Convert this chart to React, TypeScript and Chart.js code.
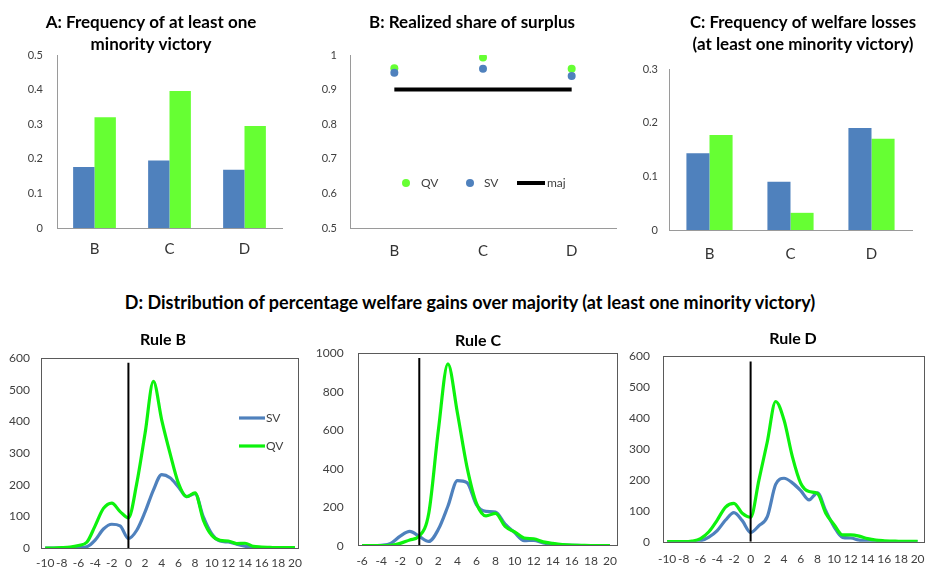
import React, { useEffect, useRef } from 'react';
import { Chart, registerables } from 'chart.js';

Chart.register(...registerables);

const FONT = 'Lato, "Open Sans", "DejaVu Sans", sans-serif';
const TICK = '#404040';
const AXIS = '#9a9a9a';
const SV_BLUE = '#4F81BD';
const QV_BAR = '#66FF33';
const QV_LINE = '#0df20d';

// ---- Top row data ----
const rules = ['B', 'C', 'D'];
const minorityFreqSV = [0.176, 0.195, 0.168];
const minorityFreqQV = [0.32, 0.396, 0.295];
const surplusQV = [0.962, 0.993, 0.96];
const surplusSV = [0.949, 0.96, 0.939];
const surplusMaj = [0.9, 0.9, 0.9];
const lossFreqSV = [0.143, 0.09, 0.19];
const lossFreqQV = [0.177, 0.032, 0.17];

// ---- Distribution data (percentage welfare gain over majority) ----
const gainsWide = [-10, -9, -8, -7, -6, -5, -4, -3, -2, -1, 0, 1, 2, 3, 4, 5, 6, 7, 8, 9, 10, 11, 12, 13, 14, 15, 16, 17, 18, 19, 20];
const gainsC = [-6, -5, -4, -3, -2, -1, 0, 1, 2, 3, 4, 5, 6, 7, 8, 9, 10, 11, 12, 13, 14, 15, 16, 17, 18, 19, 20];

const ruleB_SV = [0, 0, 0, 0, 1, 4, 25, 60, 75, 70, 30, 56, 114, 183, 232, 222, 193, 162, 172, 98, 45, 22, 19, 12, 6, 2, 1, 0, 0, 0, 0];
const ruleB_QV = [0, 0, 1, 3, 8, 18, 70, 125, 142, 115, 95, 204, 362, 526, 404, 299, 205, 162, 174, 88, 40, 24, 22, 14, 15, 5, 3, 2, 1, 1, 1];

const ruleC_SV = [0, 0, 2, 12, 50, 74, 48, 22, 85, 205, 338, 328, 212, 178, 175, 112, 68, 26, 28, 15, 8, 4, 2, 1, 0, 0, 0];
const ruleC_QV = [0, 0, 0, 2, 12, 30, 50, 170, 600, 945, 690, 410, 220, 155, 168, 100, 72, 40, 36, 20, 12, 6, 3, 2, 1, 1, 1];

const ruleD_SV = [0, 0, 0, 0, 3, 15, 36, 70, 94, 68, 30, 52, 81, 185, 205, 190, 165, 135, 158, 100, 48, 14, 12, 5, 2, 1, 0, 0, 0, 0, 0];
const ruleD_QV = [0, 0, 0, 2, 10, 32, 70, 112, 124, 92, 79, 200, 323, 453, 393, 275, 189, 162, 156, 92, 55, 22, 22, 18, 10, 5, 3, 2, 1, 1, 1];

const zeroX = 0;
const zeroLineB = [0, 585];
const zeroLineC = [0, 975];
const zeroLineD = [0, 582];

const fmtTick = (v: any) => String(Number(Number(v).toFixed(2)));

// ---- plugins ----
const framePlugin = {
  id: 'frame',
  afterDraw(chart: any) {
    const { ctx, chartArea } = chart;
    ctx.save();
    ctx.strokeStyle = '#5a5a5a';
    ctx.lineWidth = 1;
    ctx.strokeRect(Math.round(chartArea.left) + 0.5, Math.round(chartArea.top) + 0.5,
      Math.round(chartArea.right - chartArea.left), Math.round(chartArea.bottom - chartArea.top));
    ctx.restore();
  },
};

const panelTitle = {
  id: 'panelTitle',
  afterDraw(chart: any, _args: any, opts: any) {
    if (!opts || !opts.lines) return;
    const ctx = chart.ctx;
    ctx.save();
    ctx.font = `bold ${opts.size}px ${FONT}`;
    ctx.fillStyle = '#000';
    ctx.textAlign = 'center';
    ctx.textBaseline = 'middle';
    opts.lines.forEach((t: string, i: number) => {
      const mw = opts.maxWidth ? opts.maxWidth[i] : 0;
      if (mw) ctx.fillText(t, opts.x, opts.y + i * opts.gap, mw);
      else ctx.fillText(t, opts.x, opts.y + i * opts.gap);
    });
    ctx.restore();
  },
};

const inlineLegend = {
  id: 'inlineLegend',
  afterDatasetsDraw(chart: any, _args: any, opts: any) {
    if (!opts || !opts.items) return;
    const { ctx, chartArea } = chart;
    ctx.save();
    ctx.font = `${opts.size || 12}px ${FONT}`;
    ctx.textBaseline = 'middle';
    ctx.textAlign = 'left';
    for (const it of opts.items) {
      const ds = chart.data.datasets[it.dataset];
      const y = chartArea.top + it.y;
      const L = chartArea.left;
      if (it.kind === 'dot') {
        ctx.beginPath();
        ctx.arc(L + it.x, y, it.r, 0, Math.PI * 2);
        ctx.fillStyle = ds.backgroundColor;
        ctx.fill();
      } else {
        ctx.beginPath();
        ctx.moveTo(L + it.x, y);
        ctx.lineTo(L + it.x2, y);
        ctx.lineWidth = it.w;
        ctx.strokeStyle = ds.borderColor;
        ctx.stroke();
      }
      ctx.fillStyle = opts.color || TICK;
      ctx.fillText(ds.label, L + it.tx, y);
    }
    ctx.restore();
  },
};

function baseOptions(p: any, title: any) {
  return {
    responsive: false,
    animation: false,
    devicePixelRatio: 1,
    layout: { padding: { left: 0, right: p.pr, top: p.top, bottom: 0 } },
    plugins: {
      legend: { display: false },
      tooltip: { enabled: false },
      title: { display: false },
      panelTitle: title,
    } as any,
  };
}

function barConfig(title: any, sv: number[], qv: number[], yMax: number, p: any) {
  const opts: any = baseOptions(p, title);
  opts.scales = {
    x: {
      grid: { display: false, drawTicks: false },
      border: { display: true, color: AXIS },
      ticks: { font: { family: FONT, size: 15 }, color: '#333', padding: p.xPad },
      afterFit: (s: any) => { s.height = p.xH; },
    },
    y: {
      min: 0,
      max: yMax,
      grid: { display: false, drawTicks: false },
      border: { display: true, color: AXIS },
      ticks: { stepSize: 0.1, callback: fmtTick, font: { family: FONT, size: 11 }, color: TICK, padding: p.yPad },
      afterFit: (s: any) => { s.width = p.yW; },
    },
  };
  return {
    type: 'bar',
    data: {
      labels: rules,
      datasets: [
        { label: 'SV', data: sv, backgroundColor: SV_BLUE, categoryPercentage: 0.57, barPercentage: 1.0 },
        { label: 'QV', data: qv, backgroundColor: QV_BAR, categoryPercentage: 0.57, barPercentage: 1.0 },
      ],
    },
    plugins: [panelTitle],
    options: opts,
  };
}

function surplusConfig() {
  const opts: any = baseOptions({ pr: 2, top: 55 }, { lines: ['B: Realized share of surplus'], size: 17, x: 162, y: 22.7, gap: 22, maxWidth: [207] });
  opts.plugins.inlineLegend = {
    size: 12,
    color: TICK,
    items: [
      { dataset: 0, kind: 'dot', x: 56, y: 128, r: 4, tx: 71 },
      { dataset: 1, kind: 'dot', x: 120, y: 128, r: 4, tx: 134 },
      { dataset: 2, kind: 'line', x: 167, x2: 195, w: 4, y: 128, tx: 197 },
    ],
  };
  opts.scales = {
    x: {
      offset: true,
      grid: { display: false, drawTicks: false },
      border: { display: true, color: AXIS },
      ticks: { font: { family: FONT, size: 15 }, color: '#333', padding: 14 },
      afterFit: (s: any) => { s.height = 42; },
    },
    y: {
      min: 0.5,
      max: 1,
      grid: { display: false, drawTicks: false },
      border: { display: true, color: AXIS },
      ticks: { stepSize: 0.1, callback: fmtTick, font: { family: FONT, size: 11 }, color: TICK, padding: 13 },
      afterFit: (s: any) => { s.width = 40; },
    },
  };
  return {
    type: 'line',
    data: {
      labels: rules,
      datasets: [
        { label: 'QV', data: surplusQV, showLine: false, pointRadius: 4, pointBorderWidth: 0, backgroundColor: QV_BAR, borderColor: QV_BAR, pointBackgroundColor: QV_BAR, order: 1 },
        { label: 'SV', data: surplusSV, showLine: false, pointRadius: 4, pointBorderWidth: 0, backgroundColor: SV_BLUE, borderColor: SV_BLUE, pointBackgroundColor: SV_BLUE, order: 0 },
        { label: 'maj', data: surplusMaj, borderColor: '#000', backgroundColor: '#000', borderWidth: 4, pointRadius: 0, order: 2 },
      ],
    },
    plugins: [inlineLegend, panelTitle],
    options: opts,
  };
}

function ruleConfig(title: any, xs: number[], sv: number[], qv: number[], zero: number[], yMax: number, yStep: number, p: any, legend: any) {
  const plugins: any[] = [framePlugin, panelTitle];
  if (legend) plugins.push(inlineLegend);
  const opts: any = baseOptions(p, title);
  if (legend) opts.plugins.inlineLegend = legend;
  opts.scales = {
    x: {
      type: 'linear',
      min: p.xMin,
      max: p.xMax,
      grid: { display: false, drawTicks: false },
      border: { display: false },
      ticks: { stepSize: 2, includeBounds: false, autoSkip: false, maxRotation: 0, callback: fmtTick, font: { family: FONT, size: 12 }, color: TICK, padding: p.xPad },
      afterFit: (s: any) => { s.height = p.xH; },
    },
    y: {
      min: 0,
      max: yMax,
      grid: { display: false, drawTicks: false },
      border: { display: false },
      ticks: { stepSize: yStep, callback: fmtTick, font: { family: FONT, size: 12 }, color: TICK, padding: p.yPad },
      afterFit: (s: any) => { s.width = p.yW; },
    },
  };
  return {
    type: 'line',
    data: {
      datasets: [
        { label: 'SV', data: xs.map((x, i) => ({ x, y: sv[i] })), borderColor: SV_BLUE, backgroundColor: SV_BLUE, borderWidth: 3.2, pointRadius: 0, cubicInterpolationMode: 'monotone', order: 2 },
        { label: 'QV', data: xs.map((x, i) => ({ x, y: qv[i] })), borderColor: QV_LINE, backgroundColor: QV_LINE, borderWidth: 3.2, pointRadius: 0, cubicInterpolationMode: 'monotone', order: 1 },
        { label: 'zero', data: zero.map((y) => ({ x: zeroX, y })), borderColor: '#000', borderWidth: 2, pointRadius: 0, order: 0 },
      ],
    },
    plugins,
    options: opts,
  };
}

function ChartBox({ left, top, width, height, make }: { left: number; top: number; width: number; height: number; make: () => any }) {
  const ref = useRef<HTMLCanvasElement>(null);
  useEffect(() => {
    const chart = new Chart(ref.current as HTMLCanvasElement, make());
    return () => chart.destroy();
  }, []);
  return (
    <div style={{ position: 'absolute', left, top, width, height }}>
      <canvas ref={ref} width={width} height={height} style={{ width, height, display: 'block' }} />
    </div>
  );
}

export default function App() {
  return (
    <div style={{ position: 'absolute', left: 0, top: 0, width: 935, height: 569, overflow: 'hidden', background: '#fff', fontFamily: FONT }}>
      <ChartBox left={0} top={0} width={302} height={270}
        make={() => barConfig({ lines: ['A: Frequency of at least one', 'minority victory'], size: 17, x: 151, y: 22.7, gap: 21.6, maxWidth: [212, 121] },
          minorityFreqSV, minorityFreqQV, 0.5,
          { pr: 20, top: 55, xPad: 12, xH: 42, yPad: 14, yW: 57 })} />
      <ChartBox left={310} top={0} width={310} height={270} make={surplusConfig} />
      <ChartBox left={620} top={0} width={315} height={270}
        make={() => barConfig({ lines: ['C: Frequency of welfare losses', '(at least one minority victory)'], size: 17, x: 183, y: 22.7, gap: 22.3, maxWidth: [226, 223] },
          lossFreqSV, lossFreqQV, 0.3,
          { pr: 23, top: 69, xPad: 15, xH: 40, yPad: 11, yW: 49 })} />
      <div style={{ position: 'absolute', left: 70, width: 800, top: 291, height: 22, lineHeight: '22px', textAlign: 'center', fontWeight: 'bold', fontSize: 18, color: '#000' }}>
        D: Distribution of percentage welfare gains over majority (at least one minority victory)
      </div>
      <ChartBox left={0} top={320} width={310} height={249}
        make={() => ruleConfig({ lines: ['Rule B'], size: 16, x: 163, y: 20, gap: 0 }, gainsWide, ruleB_SV, ruleB_QV, zeroLineB, 600, 100,
          { pr: 8, top: 38, xMin: -10.5, xMax: 20.4, xPad: 8, xH: 21, yPad: 11, yW: 41 },
          {
            size: 12, color: TICK,
            items: [
              { dataset: 0, kind: 'line', x: 198, x2: 224, w: 3.2, y: 60, tx: 225 },
              { dataset: 1, kind: 'line', x: 198, x2: 224, w: 3.2, y: 88, tx: 225 },
            ],
          })} />
      <ChartBox left={310} top={320} width={315} height={249}
        make={() => ruleConfig({ lines: ['Rule C'], size: 16, x: 168, y: 20.8, gap: 0 }, gainsC, ruleC_SV, ruleC_QV, zeroLineC, 1000, 200,
          { pr: 3.3, top: 33.3, xMin: -6.46, xMax: 20.66, xPad: 8, xH: 23.3, yPad: 14, yW: 47.7 }, null)} />
      <ChartBox left={620} top={320} width={315} height={249}
        make={() => ruleConfig({ lines: ['Rule D'], size: 16, x: 173, y: 18.8, gap: 0 }, gainsWide, ruleD_SV, ruleD_QV, zeroLineD, 600, 100,
          { pr: 1.7, top: 36, xMin: -10.53, xMax: 20.76, xPad: 10.4, xH: 27.3, yPad: 12.7, yW: 42.7 }, null)} />
    </div>
  );
}
